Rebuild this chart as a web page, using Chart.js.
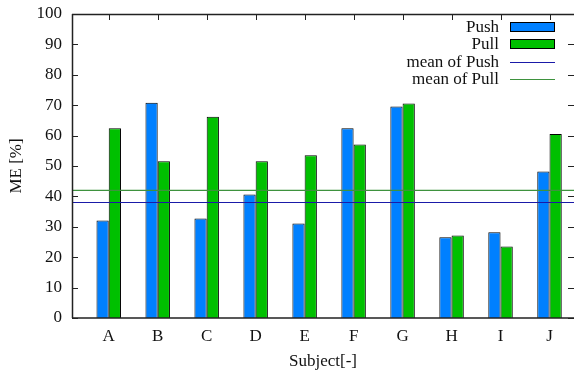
<!DOCTYPE html>
<html>
<head>
<meta charset="utf-8">
<script src="https://cdn.jsdelivr.net/npm/chart.js@4"></script>
<style>
  html, body { margin: 0; padding: 0; background: #fff; }
  #wrap { width: 574px; height: 372px; }
</style>
</head>
<body>
<div id="wrap"><canvas id="meChart" width="574" height="372"></canvas></div>
<script>
// values
let subjects = ['A', 'B', 'C', 'D', 'E', 'F', 'G', 'H', 'I', 'J'];
let pushValues = [32.1, 70.8, 32.7, 40.6, 31.1, 62.4, 69.6, 26.6, 28.2, 48.2];
let pullValues = [62.4, 51.6, 66.2, 51.6, 53.5, 57.1, 70.6, 27.1, 23.5, 60.5];
let meanPush = 38;
let meanPull = 42;
let yTicks = [0, 10, 20, 30, 40, 50, 60, 70, 80, 90, 100];

let xMin = -0.75;
let xMax = 9.5;
let fontFamily = '"Liberation Serif", "DejaVu Serif", serif';
let fontSize = 17;

function toPoints(values) {
    return values.map(function (v, i) { return { x: i, y: v }; });
}

// frame, inward ticks and the gnuplot-style legend
let framePlugin = {
    id: 'frame',
    afterDatasetsDraw: function (chart) {
        let ctx = chart.ctx;
        let area = chart.chartArea;
        let xs = chart.scales.x;
        let ys = chart.scales.y;
        ctx.save();
        ctx.strokeStyle = '#222';
        ctx.lineWidth = 1;
        ctx.beginPath();
        yTicks.forEach(function (t) {
            let py = Math.round(ys.getPixelForValue(t)) + 0.5;
            ctx.moveTo(area.left, py); ctx.lineTo(area.left + 6, py);
            ctx.moveTo(area.right, py); ctx.lineTo(area.right - 6, py);
        });
        subjects.forEach(function (s, i) {
            let px = Math.round(xs.getPixelForValue(i)) + 0.5;
            ctx.moveTo(px, area.top); ctx.lineTo(px, area.top + 6);
        });
        ctx.stroke();
        ctx.lineWidth = 1.5;
        ctx.strokeStyle = '#222';
        ctx.beginPath();
        ctx.moveTo(area.left, area.top + 0.5);
        ctx.lineTo(area.right, area.top + 0.5);
        ctx.moveTo(area.left + 0.5, area.top);
        ctx.lineTo(area.left + 0.5, area.bottom);
        ctx.moveTo(area.left, area.bottom);
        ctx.lineTo(area.right, area.bottom);
        ctx.stroke();

        // legend
        let textRight = 499;
        let boxLeft = 510;
        let boxRight = 555;
        let rowY = [27, 44, 61.5, 78.5];
        ctx.font = fontSize + 'px ' + fontFamily;
        ctx.fillStyle = '#111';
        ctx.textAlign = 'right';
        ctx.textBaseline = 'middle';
        chart.data.datasets.forEach(function (ds, i) {
            let y = rowY[i];
            ctx.fillText(ds.label, textRight, y + 1);
            if (ds.type === 'line') {
                ctx.strokeStyle = ds.borderColor;
                ctx.lineWidth = 1.2;
                ctx.beginPath();
                ctx.moveTo(boxLeft, Math.round(y) + 0.5);
                ctx.lineTo(boxRight, Math.round(y) + 0.5);
                ctx.stroke();
            } else {
                ctx.fillStyle = ds.backgroundColor;
                ctx.fillRect(boxLeft, y - 4.5, boxRight - boxLeft, 9);
                ctx.strokeStyle = '#000';
                ctx.lineWidth = 1;
                ctx.strokeRect(boxLeft + 0.5, y - 4.5, boxRight - boxLeft - 1, 9);
                ctx.fillStyle = '#111';
            }
        });
        ctx.restore();
    }
};

let ctx = document.getElementById('meChart').getContext('2d');
let chart = new Chart(ctx, {
    type: 'bar',
    data: {
        datasets: [
            {
                label: 'Push',
                data: toPoints(pushValues),
                backgroundColor: '#0080ff',
                borderColor: '#000',
                borderWidth: 1,
                categoryPercentage: 0.5,
                barPercentage: 1.0,
                order: 2
            },
            {
                label: 'Pull',
                data: toPoints(pullValues),
                backgroundColor: '#00c000',
                borderColor: '#000',
                borderWidth: 1,
                categoryPercentage: 0.5,
                barPercentage: 1.0,
                order: 2
            },
            {
                type: 'line',
                label: 'mean of Push',
                data: [{ x: xMin, y: meanPush }, { x: xMax, y: meanPush }],
                borderColor: '#1a1aa8',
                borderWidth: 1.2,
                pointRadius: 0,
                fill: false,
                order: 1
            },
            {
                type: 'line',
                label: 'mean of Pull',
                data: [{ x: xMin, y: meanPull }, { x: xMax, y: meanPull }],
                borderColor: '#3e923e',
                borderWidth: 1.2,
                pointRadius: 0,
                fill: false,
                order: 1
            }
        ]
    },
    options: {
        responsive: false,
        animation: false,
        layout: { padding: { top: 14, right: 0, left: 0, bottom: 0 } },
        plugins: {
            legend: { display: false },
            tooltip: { enabled: false }
        },
        scales: {
            x: {
                type: 'linear',
                offset: false,
                min: xMin,
                max: xMax,
                afterBuildTicks: function (scale) {
                    scale.ticks = subjects.map(function (s, i) { return { value: i }; });
                },
                afterFit: function (scale) {
                    scale.height = 54;
                    scale.paddingLeft = 0;
                    scale.paddingRight = 0;
                },
                grid: { display: false, drawTicks: false },
                border: { display: false },
                ticks: {
                    padding: 8,
                    maxRotation: 0,
                    autoSkip: false,
                    color: '#111',
                    font: { family: fontFamily, size: fontSize },
                    callback: function (v) { return subjects[v]; }
                },
                title: {
                    display: true,
                    text: 'Subject[-]',
                    color: '#111',
                    font: { family: fontFamily, size: fontSize },
                    padding: { top: 4, bottom: 0 }
                }
            },
            y: {
                min: 0,
                max: 100,
                afterBuildTicks: function (scale) {
                    scale.ticks = yTicks.map(function (t) { return { value: t }; });
                },
                afterFit: function (scale) {
                    scale.width = 72;
                    scale.paddingTop = 0;
                    scale.paddingBottom = 0;
                },
                grid: { display: false, drawTicks: false },
                border: { display: false },
                ticks: {
                    padding: 10,
                    color: '#111',
                    font: { family: fontFamily, size: fontSize }
                },
                title: {
                    display: true,
                    text: 'ME [%]',
                    color: '#111',
                    font: { family: fontFamily, size: fontSize },
                    padding: { top: 6, bottom: 0 }
                }
            }
        }
    },
    plugins: [framePlugin]
});
</script>
</body>
</html>
